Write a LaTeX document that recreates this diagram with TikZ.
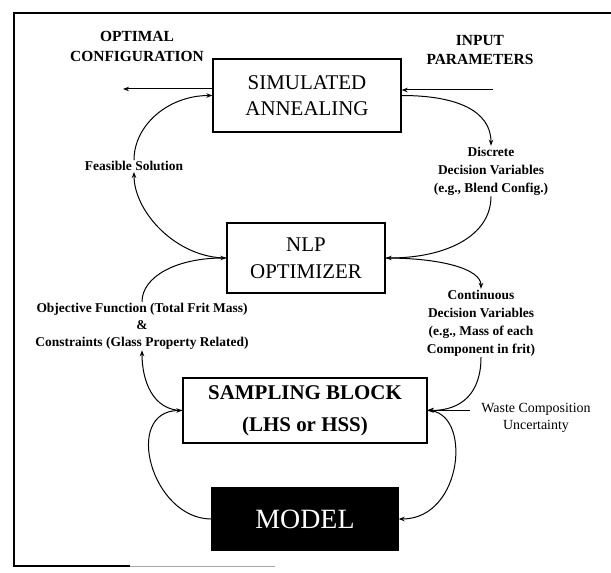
\documentclass[tikz,border=0pt]{standalone}
\usepackage{fontspec}
\setmainfont{Liberation Serif}
\usetikzlibrary{arrows.meta,calc}
\begin{document}
\begin{tikzpicture}[x=1bp,y=-1bp,
  box/.style={draw,line width=1.3bp,inner sep=0pt,align=center},
  conn/.style={line width=1bp,-{Stealth[length=6bp,width=4.5bp]}},
  lbl/.style={align=center,inner sep=1bp,font=\bfseries\fontsize{13.5}{18}\selectfont},
  head/.style={align=center,inner sep=1bp,font=\bfseries\fontsize{15.5}{20}\selectfont},
  frame/.style={line width=1.4bp}
]
\useasboundingbox (0,0) rectangle (611,573);
% frame
\draw[frame] (611,13) -- (14,13) -- (14,566) -- (130,566);
\draw[line width=0.6bp,black!35] (130,566) -- (275,566);

% boxes
\node[box,minimum width=188bp,minimum height=73bp,font=\fontsize{21}{26}\selectfont] (SA) at (307,95.5) {SIMULATED\\ANNEALING};
\node[box,minimum width=158bp,minimum height=70bp,font=\fontsize{21}{27}\selectfont] (NLP) at (306,258) {NLP\\OPTIMIZER};
\node[box,minimum width=244bp,minimum height=65bp,font=\bfseries\fontsize{21}{32}\selectfont] (samp) at (305,410.5) {SAMPLING BLOCK\\(LHS or HSS)};
\node[box,fill=black,minimum width=186bp,minimum height=62bp,text=white,font=\fontsize{28}{30}\selectfont] (model) at (305,519) {MODEL};

% labels
\node[head] (opt) at (137,46.5) {OPTIMAL\\CONFIGURATION};
\node[head] (inp) at (480,50) {INPUT\\PARAMETERS};
\node[lbl] (feas) at (134,166) {Feasible Solution};
\node[lbl] (disc) at (491,171) {Discrete\\Decision Variables\\(e.g., Blend Config.)};
\node[lbl,font=\bfseries\fontsize{13.5}{17}\selectfont] (obj) at (142,326) {Objective Function (Total Frit Mass)\\\&\\Constraints (Glass Property Related)};
\node[lbl] (cont) at (481,323) {Continuous\\Decision Variables\\(e.g., Mass of each\\Component in frit)};
\node[align=center,inner sep=1bp,font=\fontsize{14}{17}\selectfont] (waste) at (536,418) {Waste Composition\\Uncertainty};

% free ends
\coordinate (optend) at (123,89);
\coordinate (inpstart) at (493,90);
\coordinate (wastestart) at (470,410);

% straight arrows
\draw[conn] (SA.west |- optend) -- (optend);
\draw[conn] (inpstart) -- (inpstart -| SA.east);
\draw[conn] (wastestart) -- (wastestart -| samp.east);

% curved connectors
\draw[conn] (SA.east) .. controls +(55,0) and +(0,-35) .. (disc.north);
\draw[conn] (disc.south) .. controls +(0,40) and +(60,0) .. (NLP.east);
\draw[conn] (NLP.east) .. controls +(55,0) and +(0,-20) .. (cont.north);
\draw[conn] (cont.south) .. controls +(0,35) and +(35,0) .. (samp.east);
\draw[conn] (samp.east) .. controls +(45,0) and +(65,0) .. (model.east);
\draw[conn] (model.west) .. controls +(-60,0) and +(-60,0) .. (samp.west);
\draw[conn] (samp.west) .. controls +(-30,0) and +(0,30) .. (obj.south);
\draw[conn] (obj.north) .. controls +(0,-25) and +(-50,0) .. (NLP.west);
\draw[conn] (NLP.west) .. controls +(-50,0) and +(0,40) .. (feas.south);
\draw[conn] (feas.north) .. controls +(0,-35) and +(-44,0) .. (SA.west);
\end{tikzpicture}
\end{document}
